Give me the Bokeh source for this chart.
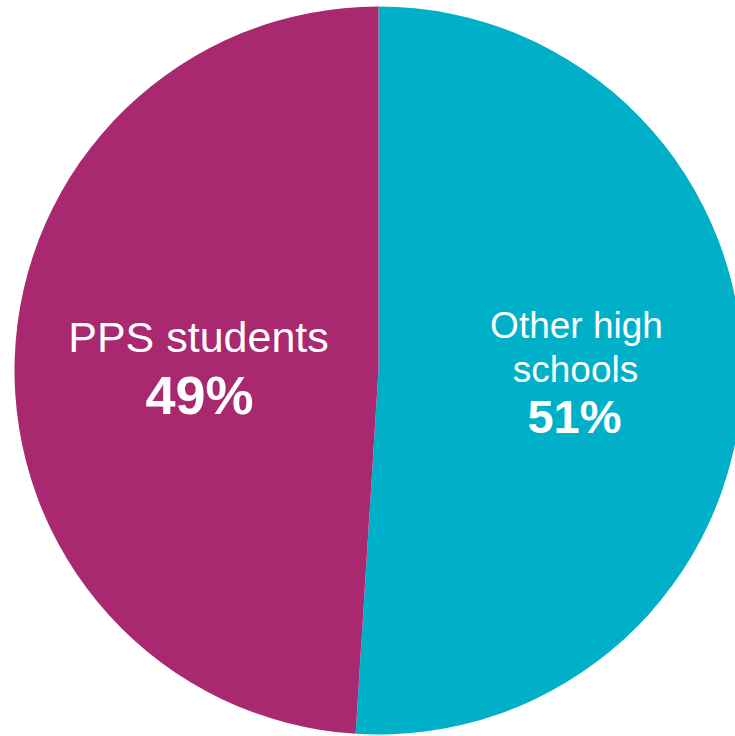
import math
from bokeh.plotting import figure
from bokeh.models import ColumnDataSource, Range1d
from bokeh.core.properties import value
from bokeh.embed import file_html
from bokeh.resources import INLINE

categories = ["Other high schools", "PPS students"]
shares = [51, 49]
colors = ["#00AFC8", "#A8296F"]
label_lines = [["Other high", "schools"], ["PPS students"]]
pct_labels = ["51%", "49%"]

W, H = 735, 736
cx, cy, R = 378, H - 370, 364

total = sum(shares)
starts, ends = [], []
cum = 0.0
for s in shares:
    a0 = math.pi / 2 - 2 * math.pi * cum / total
    cum += s
    a1 = math.pi / 2 - 2 * math.pi * cum / total
    starts.append(a1)
    ends.append(a0)

src = ColumnDataSource(dict(start=starts, end=ends, color=colors, cat=categories))

p = figure(width=W, height=H, output_backend="svg", toolbar_location=None,
           x_range=Range1d(0, W), y_range=Range1d(0, H), min_border=0)
p.axis.visible = False
p.grid.visible = False
p.outline_line_color = None
p.background_fill_color = "white"
p.border_fill_color = "white"

p.wedge(x=cx, y=cy, radius=R, start_angle="start", end_angle="end",
        direction="anticlock", fill_color="color", line_color=None, source=src)

def iy(y_img):
    return H - y_img

# label placement (image pixel coords, adjusted for rendered baseline)
name_pos = [[(576, 325), (575, 369)], [(198, 336)]]
name_size = ["37px", "43px"]
pct_pos = [(574, 416), (199, 394)]
pct_size = ["47px", "54px"]

for i in range(len(categories)):
    for line, (x, y) in zip(label_lines[i], name_pos[i]):
        p.text(x=[x], y=[iy(y)], text=[line], text_color="white",
               text_font=value("Liberation Sans"), text_font_size=name_size[i],
               text_align="center", text_baseline="alphabetic")
    x, y = pct_pos[i]
    p.text(x=[x], y=[iy(y)], text=[pct_labels[i]], text_color="white",
           text_font=value("Liberation Sans"), text_font_size=pct_size[i],
           text_font_style="bold", text_align="center", text_baseline="alphabetic")

open("out.html", "w").write(file_html(p, INLINE))
